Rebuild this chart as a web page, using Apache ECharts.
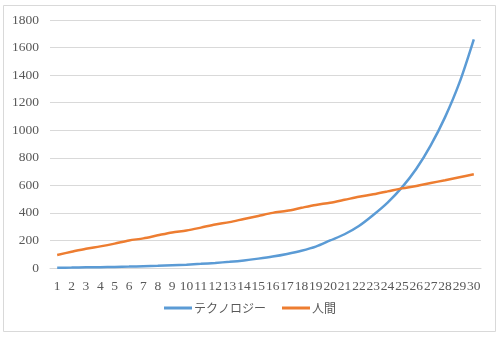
<!DOCTYPE html>
<html>
<head>
<meta charset="utf-8">
<script src="https://cdn.jsdelivr.net/npm/echarts@6/dist/echarts.min.js"></script>
<style>html,body{margin:0;padding:0;background:#fff;}#c{width:500px;height:341px;}</style>
</head>
<body>
<div id="c"></div>
<script>
const categories = ['1','2','3','4','5','6','7','8','9','10','11','12','13','14','15','16','17','18','19','20','21','22','23','24','25','26','27','28','29','30'];
const techName = 'テクノロジー';
const humanName = '人間';
const techValues = [2,3,5,6,8,10,13,16,20,24,30,37,45,55,68,83,102,125,155,200,245,305,385,475,585,720,890,1095,1345,1660];
const humanValues = [95,118,140,157,177,200,215,237,258,272,293,316,333,356,378,400,415,437,458,474,495,517,535,556,578,595,617,637,659,680];
const yTicks = {min:0, max:1800, interval:200};

const chart = echarts.init(document.getElementById('c'), null, {renderer:'canvas'});
chart.setOption({
  animation:false,
  backgroundColor:'#fff',
  graphic:[{type:'rect', shape:{x:3.5,y:5.5,width:492,height:326}, style:{fill:'none', stroke:'#d9d9d9', lineWidth:1}, silent:true}],
  grid:{left:50, right:19, top:20, bottom:73},
  xAxis:{type:'category', data:categories, boundaryGap:true,
    axisLine:{lineStyle:{color:'#d9d9d9'}}, axisTick:{show:false},
    axisLabel:{interval:0, hideOverlap:false, color:'#595959', fontFamily:'Liberation Serif, DejaVu Serif, serif', fontSize:13.5, margin:11}},
  yAxis:{type:'value', min:yTicks.min, max:yTicks.max, interval:yTicks.interval,
    axisLine:{show:false}, axisTick:{show:false},
    splitLine:{lineStyle:{color:'#d9d9d9', width:1}},
    axisLabel:{color:'#595959', fontFamily:'Liberation Serif, DejaVu Serif, serif', fontSize:13.5, margin:11, formatter:(v)=>String(v)}},
  legend:{bottom:22, left:'center', itemWidth:28, itemHeight:3, itemGap:16, icon:'rect',
    textStyle:{color:'#595959', fontSize:12, fontFamily:'Noto Sans CJK JP, sans-serif', padding:[0,0,0,-3]},
    data:[techName, humanName]},
  series:[
    {name:techName, type:'line', data:techValues, smooth:0.3, symbol:'none', lineStyle:{color:'#5B9BD5', width:2.5}, itemStyle:{color:'#5B9BD5'}},
    {name:humanName, type:'line', data:humanValues, smooth:0.3, symbol:'none', lineStyle:{color:'#ED7D31', width:2.5}, itemStyle:{color:'#ED7D31'}}
  ]
});
</script>
</body>
</html>
